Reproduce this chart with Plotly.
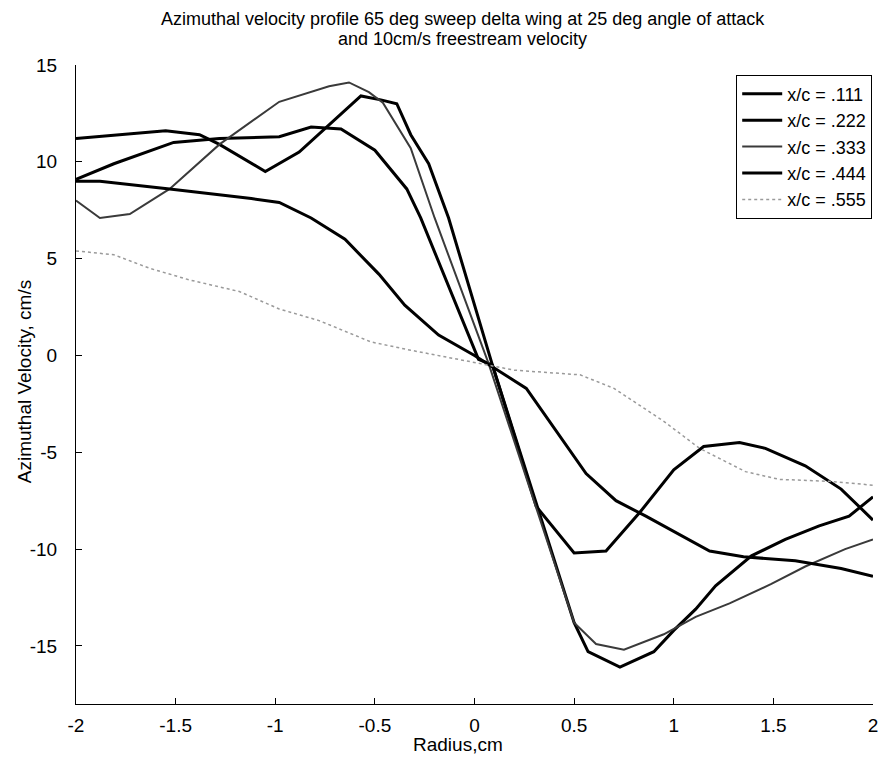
import plotly.graph_objects as go

# x/c = .111
x_111 = [-2.0, -1.55, -1.38, -1.28, -1.05, -0.88, -0.57, -0.47, -0.39, -0.32, -0.23, -0.13, 0.09, 0.31, 0.50, 0.66, 0.83, 1.0, 1.15, 1.33, 1.46, 1.66, 1.84, 2.0]
y_111 = [11.2, 11.6, 11.4, 10.9, 9.5, 10.5, 13.4, 13.2, 13.0, 11.4, 9.9, 7.1, -0.5, -7.8, -10.2, -10.1, -8.1, -5.9, -4.7, -4.5, -4.8, -5.7, -6.9, -8.5]

# x/c = .222
x_222 = [-2.0, -1.81, -1.51, -1.28, -0.98, -0.82, -0.67, -0.50, -0.34, -0.27, 0.02, 0.09, 0.50, 0.57, 0.73, 0.90, 1.0, 1.11, 1.21, 1.39, 1.56, 1.73, 1.88, 2.0]
y_222 = [9.1, 9.9, 11.0, 11.2, 11.3, 11.8, 11.7, 10.6, 8.6, 7.1, -0.2, -0.5, -13.8, -15.3, -16.1, -15.3, -14.2, -13.1, -11.9, -10.35, -9.5, -8.8, -8.3, -7.3]

# x/c = .333
x_333 = [-2.0, -1.88, -1.73, -1.53, -1.28, -0.98, -0.73, -0.63, -0.53, -0.46, -0.32, -0.20, 0.07, 0.50, 0.61, 0.75, 0.95, 1.11, 1.28, 1.49, 1.66, 1.86, 2.0]
y_333 = [8.0, 7.1, 7.3, 8.6, 10.9, 13.1, 13.9, 14.1, 13.6, 13.05, 10.7, 7.1, -0.4, -13.8, -14.9, -15.2, -14.4, -13.5, -12.8, -11.8, -10.9, -10.0, -9.5]

# x/c = .444
x_444 = [-2.0, -1.88, -1.53, -1.28, -1.12, -0.98, -0.82, -0.65, -0.48, -0.35, -0.18, 0.0, 0.10, 0.26, 0.56, 0.71, 0.86, 1.18, 1.35, 1.61, 1.84, 2.0]
y_444 = [9.0, 9.0, 8.6, 8.3, 8.1, 7.9, 7.1, 6.0, 4.2, 2.6, 1.05, 0.0, -0.67, -1.7, -6.1, -7.5, -8.3, -10.1, -10.4, -10.6, -11.0, -11.4]

# x/c = .555
x_555 = [-2.0, -1.81, -1.63, -1.43, -1.18, -0.98, -0.78, -0.52, -0.32, -0.15, 0.2, 0.53, 0.70, 0.95, 1.13, 1.36, 1.53, 1.78, 2.0]
y_555 = [5.4, 5.2, 4.5, 3.9, 3.3, 2.4, 1.8, 0.7, 0.27, -0.07, -0.76, -1.0, -1.7, -3.4, -4.8, -6.0, -6.4, -6.5, -6.7]

x_ticks = [-2, -1.5, -1, -0.5, 0, 0.5, 1, 1.5, 2]
y_ticks = [-15, -10, -5, 0, 5, 10, 15]

title_lines = ["Azimuthal velocity profile 65 deg sweep delta wing at 25 deg angle of attack",
               "and 10cm/s freestream velocity"]

series = [
    ("x/c = .111", x_111, y_111, dict(color="black", width=3)),
    ("x/c = .222", x_222, y_222, dict(color="black", width=3)),
    ("x/c = .333", x_333, y_333, dict(color="#3a3a3a", width=2)),
    ("x/c = .444", x_444, y_444, dict(color="black", width=3)),
    ("x/c = .555", x_555, y_555, dict(color="#9a9a9a", width=1.5, dash="dot")),
]

fig = go.Figure()
for name, xs, ys, ln in series:
    fig.add_trace(go.Scatter(x=xs, y=ys, mode="lines", name=name, line=ln))

ff = "Liberation Sans, Arial, sans-serif"

annotations = [
    dict(text=title_lines[0], x=0.485, y=1.072, xref="paper", yref="paper",
         xanchor="center", yanchor="middle", showarrow=False, font=dict(family=ff, size=18)),
    dict(text=title_lines[1], x=0.485, y=1.0407, xref="paper", yref="paper",
         xanchor="center", yanchor="middle", showarrow=False, font=dict(family=ff, size=18)),
    dict(text="Radius,cm", x=0.479, y=-0.064, xref="paper", yref="paper",
         xanchor="center", yanchor="middle", showarrow=False, font=dict(family=ff, size=19)),
    dict(text="Azimuthal Velocity, cm/s", x=-0.0636, y=0.504, xref="paper", yref="paper",
         xanchor="center", yanchor="middle", textangle=-90, showarrow=False,
         font=dict(family=ff, size=19)),
]

fig.update_layout(
    width=880, height=755,
    paper_bgcolor="white", plot_bgcolor="white",
    margin=dict(l=68, r=10, t=57, b=59),
    font=dict(family=ff, size=19, color="black"),
    annotations=annotations,
    legend=dict(
        x=0.999, xanchor="right", y=0.985, yanchor="top",
        bordercolor="black", borderwidth=1, bgcolor="white",
        font=dict(family=ff, size=18, color="black"),
        tracegroupgap=0, itemwidth=40,
    ),
    showlegend=True,
)

fig.update_xaxes(
    range=[-2, 2], tickvals=x_ticks, ticktext=[("%g" % v) for v in x_ticks],
    showgrid=False, zeroline=False, showline=True, linecolor="black", linewidth=1,
    ticks="inside", ticklen=6, tickcolor="black", ticklabelstandoff=4,
    tickfont=dict(family=ff, size=19),
)
fig.update_yaxes(
    range=[-18, 15], tickvals=y_ticks, ticktext=[("%g" % v) for v in y_ticks],
    showgrid=False, zeroline=False, showline=True, linecolor="black", linewidth=1,
    ticks="inside", ticklen=6, tickcolor="black", ticklabelstandoff=14,
    tickfont=dict(family=ff, size=19),
)

fig.write_html("out.html")
